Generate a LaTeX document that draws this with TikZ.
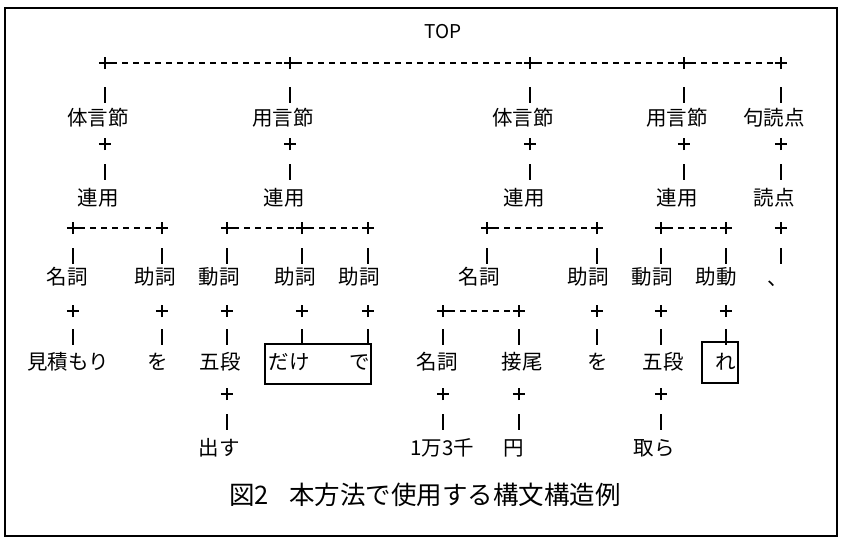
\documentclass[tikz,border=0pt]{standalone}
\usepackage{fontspec}
\setmainfont{Noto Sans CJK JP}
\usetikzlibrary{shapes.misc}
\begin{document}
\begin{tikzpicture}[x=1pt,y=-1pt,
  lab/.style={font=\fontsize{20.5}{20.5}\selectfont, inner sep=0pt, anchor=center},
  toplab/.style={font=\fontsize{19}{19}\selectfont, inner sep=0pt},
  captext/.style={font=\fontsize{25.5}{25.5}\selectfont, inner sep=0pt},
  pl/.style={cross out, draw, rotate=45, minimum size=7.4pt, inner sep=0pt, line width=1.4pt},
  dl/.style={line width=1.3pt, dash pattern=on 5.5pt off 5.5pt, dash phase=0pt, shorten <=6pt, shorten >=6pt},
  pipe/.style={line width=1.4pt},
  box/.style={draw, line width=1.6pt}]
\newcommand\vbar[2]{\draw[pipe] (#1,#2-8) -- (#1,#2+8);}
\useasboundingbox (0,0) rectangle (842,541);
\draw[line width=2pt] (5,8) rectangle (837,536);

% TOP
\node[toplab] (top) at (443,32) {TOP};
% top split
\foreach \n/\x in {t1/105,t2/290,t3/530,t4/684,t5/781}{\node[pl] (\n) at (\x,63) {};}
\draw[dl] (t1.center) -- (t2.center);
\draw[dl] (t2.center) -- (t3.center);
\draw[dl] (t3.center) -- (t4.center);
\draw[dl] (t4.center) -- (t5.center);
\foreach \x in {105,290,530,684,781}{\vbar{\x}{95}}
% level 1
\node[lab] (b1) at (98,118) {体言節};
\node[lab] (b2) at (283,118) {用言節};
\node[lab] (b3) at (523,118) {体言節};
\node[lab] (b4) at (677,118) {用言節};
\node[lab] (b5) at (774,118) {句読点};
\foreach \n/\x in {q1/105,q2/290,q3/530,q4/684,q5/781}{\node[pl] (\n) at (\x,144) {};}
\foreach \x in {105,290,530,684,781}{\vbar{\x}{172}}
% level 2
\node[lab] (r1) at (98,198) {連用};
\node[lab] (r2) at (284,198) {連用};
\node[lab] (r3) at (524,198) {連用};
\node[lab] (r4) at (677,198) {連用};
\node[lab] (r5) at (774,198) {読点};
\foreach \n/\x in {s11/73,s12/162,s21/227,s22/302,s23/368,s31/487,s32/597,s41/661,s42/726,s51/781}{\node[pl] (\n) at (\x,228) {};}
\draw[dl] (s11.center) -- (s12.center);
\draw[dl] (s21.center) -- (s22.center);
\draw[dl] (s22.center) -- (s23.center);
\draw[dl] (s31.center) -- (s32.center);
\draw[dl] (s41.center) -- (s42.center);
\foreach \x in {73,162,227,302,368,487,597,661,726,781}{\vbar{\x}{256}}
% level 3
\node[lab] (w1) at (67,277) {名詞};
\node[lab] (w2) at (155,277) {助詞};
\node[lab] (w3) at (219,277) {動詞};
\node[lab] (w4) at (295,277) {助詞};
\node[lab] (w5) at (359,277) {助詞};
\node[lab] (w6) at (479,277) {名詞};
\node[lab] (w7) at (588,277) {助詞};
\node[lab] (w8) at (652,277) {動詞};
\node[lab] (w9) at (716,277) {助動};
\node[lab, anchor=base west] (w10) at (767,285) {、};
\foreach \n/\x in {u1/73,u2/162,u3/227,u4/302,u5/368,u6/443,u7/519,u8/597,u9/661,u10/726}{\node[pl] (\n) at (\x,311) {};}
\draw[dl] (u6.center) -- (u7.center);
\foreach \x in {73,162,227,302,368,443,519,597,661,726}{\vbar{\x}{337}}
% level 4
\node[lab] (m1) at (68,362) {見積もり};
\node[lab] (m2) at (158,362) {を};
\node[lab] (m3) at (220,362) {五段};
\node[lab] (m4) at (289,362) {だけ};
\node[lab] (m5) at (360,362) {で};
\node[lab] (m6) at (437,362) {名詞};
\node[lab] (m7) at (522,362) {接尾};
\node[lab] (m8) at (598,362) {を};
\node[lab] (m9) at (663,362) {五段};
\node[lab] (m10) at (726,362) {れ};
\node[box, minimum width=106pt, minimum height=40pt, inner sep=0pt] (boxA) at (318,364) {};
\node[box, minimum width=36pt, minimum height=41pt, inner sep=0pt] (boxB) at (720,362.5) {};
\foreach \n/\x in {v1/227,v2/443,v3/519,v4/661}{\node[pl] (\n) at (\x,394) {};}
\foreach \x in {227,443,519,661}{\vbar{\x}{422}}
% level 5
\node[lab] (e1) at (219,448) {出す};
\node[lab] (e2) at (442,448) {1万3千};
\node[lab] (e3) at (514,448) {円};
\node[lab] (e4) at (654,448) {取ら};
% caption
\node[captext] (caption) at (425,495) {図2\hspace{20pt}本方法で使用する構文構造例};
\end{tikzpicture}
\end{document}
